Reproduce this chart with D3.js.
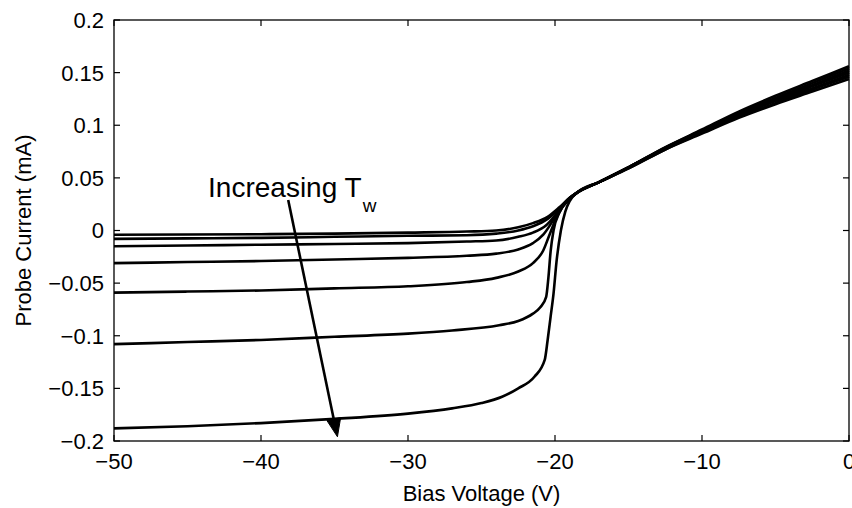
<!DOCTYPE html>
<html>
<head>
<meta charset="utf-8">
<script src="https://cdn.jsdelivr.net/npm/d3@7"></script>
<style>
  body { margin: 0; background: #fff; }
  text { font-family: "Liberation Sans", Arial, Helvetica, sans-serif; fill: #000; }
</style>
</head>
<body>
<svg id="chart"></svg>
<script>
// bias voltage (V) vs probe current (mA), one array per curve
const curve1 = [[-50,-0.004],[-45,-0.0038],[-40,-0.0035],[-35,-0.003],[-30,-0.002],[-26,-0.001],[-24,0.000],[-22.5,0.003],[-21.5,0.007],[-20.5,0.013],[-19.7,0.022],[-19,0.031],
  [-18.5,0.036],[-17,0.046],[-15,0.060],[-12.5,0.079],[-10,0.096],[-7.5,0.113],[-5,0.128],[-2.5,0.142],[0,0.156]];
const curve2 = [[-50,-0.008],[-45,-0.0075],[-40,-0.007],[-35,-0.006],[-30,-0.005],[-26,-0.0045],[-24,-0.003],[-22.5,0.000],[-21.5,0.004],[-20.5,0.011],[-19.7,0.021],[-19,0.031],
  [-18.5,0.036],[-17,0.046],[-15,0.060],[-12.5,0.079],[-10,0.095],[-7.5,0.112],[-5,0.126],[-2.5,0.140],[0,0.154]];
const curve3 = [[-50,-0.015],[-45,-0.0143],[-40,-0.0135],[-35,-0.0128],[-30,-0.012],[-26,-0.0105],[-24,-0.0095],[-22.5,-0.006],[-21.5,-0.002],[-20.6,0.005],[-19.9,0.016],[-19.3,0.027],
  [-18.5,0.036],[-17,0.046],[-15,0.060],[-12.5,0.078],[-10,0.095],[-7.5,0.111],[-5,0.125],[-2.5,0.138],[0,0.152]];
const curve4 = [[-50,-0.031],[-45,-0.030],[-40,-0.029],[-35,-0.0275],[-30,-0.026],[-26,-0.024],[-24,-0.022],[-22.5,-0.018],[-21.5,-0.012],[-20.8,-0.004],[-20.2,0.008],[-19.6,0.021],[-19,0.030],
  [-18.5,0.036],[-17,0.046],[-15,0.060],[-12.5,0.078],[-10,0.094],[-7.5,0.110],[-5,0.124],[-2.5,0.137],[0,0.150]];
const curve5 = [[-50,-0.059],[-45,-0.058],[-40,-0.057],[-35,-0.055],[-30,-0.053],[-26,-0.049],[-24,-0.045],[-22.5,-0.039],[-21.5,-0.031],[-20.8,-0.019],[-20.4,-0.005],[-20,0.009],[-19.5,0.022],[-19,0.030],
  [-18.5,0.036],[-17,0.046],[-15,0.060],[-12.5,0.078],[-10,0.093],[-7.5,0.109],[-5,0.123],[-2.5,0.135],[0,0.148]];
const curve6 = [[-50,-0.108],[-45,-0.106],[-40,-0.104],[-35,-0.101],[-30,-0.098],[-27,-0.095],[-23.8,-0.090],[-22.5,-0.086],[-21.5,-0.079],[-21,-0.073],[-20.6,-0.063],[-20.45,-0.045],[-20.3,-0.020],[-20.1,0.000],[-19.7,0.017],[-19.2,0.028],
  [-18.5,0.036],[-17,0.046],[-15,0.059],[-12.5,0.077],[-10,0.093],[-7.5,0.108],[-5,0.121],[-2.5,0.134],[0,0.146]];
const curve7 = [[-50,-0.188],[-45,-0.186],[-40,-0.183],[-35,-0.179],[-30,-0.174],[-27,-0.169],[-25,-0.164],[-23.6,-0.158],[-22.5,-0.150],[-21.4,-0.139],[-20.7,-0.123],[-20.5,-0.104],[-20.3,-0.082],[-20.1,-0.060],[-19.9,-0.030],[-19.6,0.000],[-19.3,0.018],[-19,0.028],
  [-18.5,0.036],[-17,0.046],[-15,0.059],[-12.5,0.077],[-10,0.092],[-7.5,0.107],[-5,0.120],[-2.5,0.132],[0,0.144]];
const curves = [curve1, curve2, curve3, curve4, curve5, curve6, curve7];

const xTicks = [-50, -40, -30, -20, -10, 0];
const yTicks = [-0.2, -0.15, -0.1, -0.05, 0, 0.05, 0.1, 0.15, 0.2];
const yTickLabels = ["\u22120.2", "\u22120.15", "\u22120.1", "\u22120.05", "0", "0.05", "0.1", "0.15", "0.2"];
const xTickLabels = ["\u221250", "\u221240", "\u221230", "\u221220", "\u221210", "0"];

// annotation arrow: start / tip in data units
const arrowFrom = [-38.15, 0.029];
const arrowTo = [-34.8, -0.196];
const labelAt = [-43.6, 0.032];

const width = 852;
const height = 508;
const margin = { top: 20, right: 3, bottom: 67, left: 114 };

const x = d3.scaleLinear().domain([-50, 0]).range([margin.left, width - margin.right]);
const y = d3.scaleLinear().domain([-0.2, 0.2]).range([height - margin.bottom, margin.top]);

const svg = d3.select("#chart")
    .attr("width", width)
    .attr("height", height);

const line = d3.line()
    .x(d => x(d[0]))
    .y(d => y(d[1]))
    .curve(d3.curveMonotoneX);

// Curves
const plot = svg.append("g");
curves.forEach(c => {
    plot.append("path")
        .datum(c)
        .attr("d", line)
        .attr("fill", "none")
        .attr("stroke", "#000")
        .attr("stroke-width", 2.6)
        .attr("stroke-linejoin", "round");
});

// Axes box with inward ticks on all four sides
const x0 = x.range()[0], x1 = x.range()[1];
const y0 = y.range()[0], y1 = y.range()[1];
const tickLen = 6;

svg.append("rect")
    .attr("x", x0).attr("y", y1)
    .attr("width", x1 - x0).attr("height", y0 - y1)
    .attr("fill", "none")
    .attr("stroke", "#000")
    .attr("stroke-width", 1.3);

xTicks.forEach((t, i) => {
    svg.append("line")
        .attr("x1", x(t)).attr("x2", x(t))
        .attr("y1", y0).attr("y2", y0 - tickLen)
        .attr("stroke", "#000").attr("stroke-width", 1.2);
    svg.append("line")
        .attr("x1", x(t)).attr("x2", x(t))
        .attr("y1", y1).attr("y2", y1 + tickLen)
        .attr("stroke", "#000").attr("stroke-width", 1.2);
    svg.append("text")
        .attr("x", x(t))
        .attr("y", y0 + 28)
        .attr("text-anchor", "middle")
        .style("font-size", "22px")
        .text(xTickLabels[i]);
});

yTicks.forEach((t, i) => {
    svg.append("line")
        .attr("x1", x0).attr("x2", x0 + tickLen)
        .attr("y1", y(t)).attr("y2", y(t))
        .attr("stroke", "#000").attr("stroke-width", 1.2);
    svg.append("line")
        .attr("x1", x1).attr("x2", x1 - tickLen)
        .attr("y1", y(t)).attr("y2", y(t))
        .attr("stroke", "#000").attr("stroke-width", 1.2);
    svg.append("text")
        .attr("x", x0 - 10)
        .attr("y", y(t))
        .attr("dy", "0.36em")
        .attr("text-anchor", "end")
        .style("font-size", "22px")
        .text(yTickLabels[i]);
});

// Axis titles
svg.append("text")
    .attr("x", (x0 + x1) / 2)
    .attr("y", 501)
    .attr("text-anchor", "middle")
    .style("font-size", "22px")
    .text("Bias Voltage (V)");

svg.append("text")
    .attr("transform", `translate(31, ${(y0 + y1) / 2}) rotate(-90)`)
    .attr("text-anchor", "middle")
    .style("font-size", "22px")
    .text("Probe Current (mA)");

// Annotation
const ax1 = x(arrowFrom[0]), ay1 = y(arrowFrom[1]);
const ax2 = x(arrowTo[0]), ay2 = y(arrowTo[1]);
const ang = Math.atan2(ay2 - ay1, ax2 - ax1);
const headLen = 18, headHalf = 7;
const bx = ax2 - headLen * Math.cos(ang), by = ay2 - headLen * Math.sin(ang);

svg.append("line")
    .attr("x1", ax1).attr("y1", ay1)
    .attr("x2", bx).attr("y2", by)
    .attr("stroke", "#000")
    .attr("stroke-width", 2.6);

svg.append("path")
    .attr("d", `M${ax2},${ay2} L${bx - headHalf * Math.sin(ang)},${by + headHalf * Math.cos(ang)} L${bx + headHalf * Math.sin(ang)},${by - headHalf * Math.cos(ang)} Z`)
    .attr("fill", "#000")
    .attr("stroke", "#000")
    .attr("stroke-width", 1);

const label = svg.append("text")
    .attr("x", x(labelAt[0]))
    .attr("y", y(labelAt[1]))
    .style("font-size", "28px");
label.append("tspan").text("Increasing T");
label.append("tspan")
    .attr("dx", 1)
    .attr("dy", 15)
    .style("font-size", "19px")
    .text("w");
</script>
</body>
</html>
